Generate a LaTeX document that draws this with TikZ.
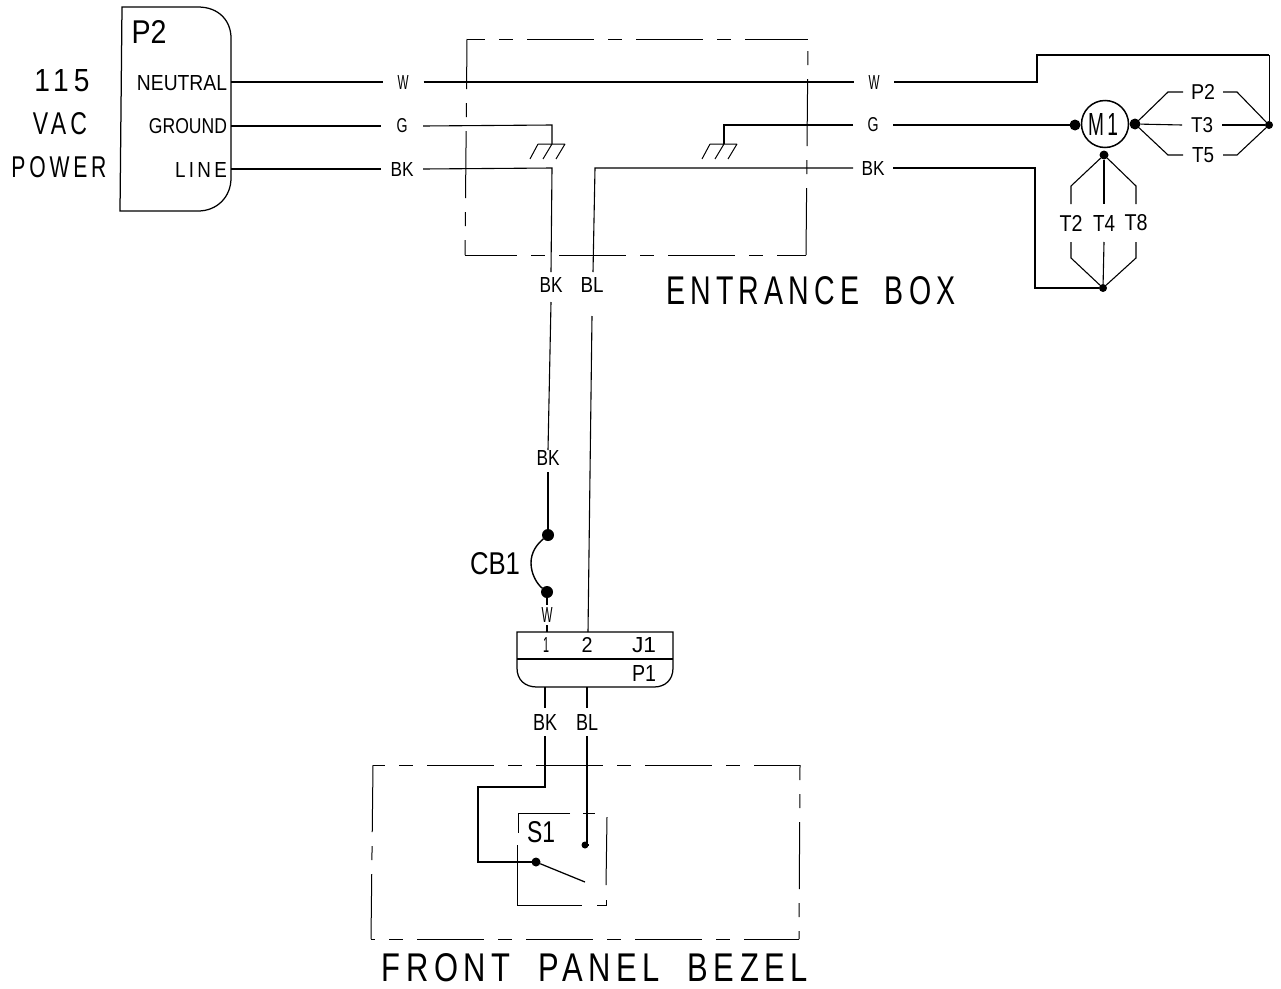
\documentclass[tikz,border=0pt]{standalone}
\usepackage{graphicx}
\usepackage{fontspec}
\setmainfont{Liberation Sans}
\newcommand{\fitlab}[3]{\resizebox{#1pt}{#2pt}{#3}}
\newcommand{\wide}[1]{{\addfontfeature{LetterSpace=18}#1}}
\tikzset{
  lbl/.style={inner sep=0pt,outer sep=0pt,minimum height=14pt},
  gapw/.style={minimum width=#1pt},
  wire/.style={line width=1.1pt,line join=miter},
  heavy/.style={line width=1.25pt},
  boxdash/.style={line width=1pt,dash pattern=on 67pt off 14pt on 14pt off 14pt,dash phase=#1pt},
  solidedge/.style={line width=1pt},
  dot/.style={circle,fill=black,inner sep=0pt,outer sep=0pt,minimum size=#1pt},
  gnd/.pic={\draw[line width=1pt] (-14,0) -- (13,0) (13,0) -- (4,15) (0,0) -- (-9,15) (-14,0) -- (-22,15);}
}
\begin{document}
\begin{tikzpicture}[x=1pt,y=-1pt]
\useasboundingbox (0,0) rectangle (1281,988);

% left-hand power labels
\node[lbl] (t115) at (62,81) {\fitlab{55}{22}{\wide{115}}};
\node[lbl] (tvac) at (60,124) {\fitlab{54}{22}{\wide{VAC}}};
\node[lbl] (tpow) at (59,167) {\fitlab{95}{21}{\wide{POWER}}};

% P2 connector
\draw[heavy] (122,7) -- (198,7) .. controls (219,7) and (231,21) .. (231,38)
  -- (231,178) .. controls (231,197) and (217,211) .. (198,211) -- (120,211) -- cycle;
\node[lbl] (tp2) at (149,32) {\fitlab{35}{23}{P2}};
\node[lbl] (tneu) at (182,83) {\fitlab{90}{15}{NEUTRAL}};
\node[lbl] (tgnd) at (188,126) {\fitlab{78}{15}{GROUND}};
\node[lbl] (tlin) at (201,170) {\fitlab{52}{15}{\wide{LINE}}};
\coordinate (pn) at (231,82);
\coordinate (pg) at (231,126);
\coordinate (pl) at (231,169);

% wire labels on the three feeds
\node[lbl,gapw=41] (w1) at (403,82) {\fitlab{11}{14}{W}};
\node[lbl,gapw=42] (g1) at (402,126) {\fitlab{11}{14}{G}};
\node[lbl,gapw=42] (b1) at (402,169) {\fitlab{23}{14}{BK}};
\node[lbl,gapw=40] (w2) at (874,82) {\fitlab{11}{14}{W}};
\node[lbl,gapw=40] (g2) at (873,125) {\fitlab{11}{14}{G}};
\node[lbl,gapw=40] (b2) at (873,168) {\fitlab{23}{14}{BK}};

\draw[heavy] (pn) -- (w1.west);
\draw[heavy] (pg) -- (g1.west);
\draw[heavy] (pl) -- (b1.west);
\draw[heavy] (w1.east) -- (w2.west);

% entrance box
\draw[boxdash=49] (467,39) -- (808,39);
\draw[boxdash=0] (806,255) -- (808,39);
\draw[boxdash=15] (465,255) -- (806,255);
\draw[boxdash=52] (465,255) -- (467,39);
\node[lbl] (tent) at (811,291) {\fitlab{289}{28}{\wide{ENTRANCE\hspace{9pt}BOX}}};

% grounds
\coordinate (gl) at (552,125);
\coordinate (gr) at (724,125);
\pic at (552,144) {gnd};
\pic at (724,144) {gnd};
\draw[wire] (g1.east) -- (gl) -- (552,144);
\draw[wire] (g2.west) -- (gr) -- (724,144);

% motor
\node[circle,draw,line width=1.5pt,minimum size=47pt,inner sep=0pt] (m1) at (1105,124) {};
\node[lbl] (tm1) at (1103,124) {\fitlab{30}{22}{\wide{M1}}};
\node[dot=11] (ml) at (1075,125) {};
\node[dot=11] (mr) at (1135,124) {};
\node[dot=9] (mb) at (1104,155) {};
\node[dot=8] (nr) at (1269,125) {};
\node[dot=8] (nb) at (1103,288) {};
\draw[heavy] (g2.east) -- (ml);

% right fan
\node[lbl,gapw=40] (tP) at (1203,92) {\fitlab{24}{15}{P2}};
\node[lbl,gapw=40] (tT3) at (1202,125) {\fitlab{22}{15}{T3}};
\node[lbl,gapw=40] (tT5) at (1203,155) {\fitlab{22}{15}{T5}};
\draw[wire] (mr) -- (1168,92) -- (tP.west);
\draw[wire] (mr) -- (tT3.west);
\draw[wire] (mr) -- (1168,155) -- (tT5.west);
\draw[wire] (tP.east) -- (1237,92) -- (nr);
\draw[wire] (tT3.east) -- (nr);
\draw[wire] (tT5.east) -- (1237,155) -- (nr);

% lower fan
\node[lbl,minimum height=38pt,minimum width=23pt] (tT2) at (1071,223) {\fitlab{23}{16}{T2}};
\node[lbl,minimum height=38pt,minimum width=22pt] (tT4) at (1104,223) {\fitlab{22}{16}{T4}};
\node[lbl,minimum height=38pt,minimum width=23pt] (tT8) at (1136,223) {\fitlab{23}{16}{T8}};
\draw[wire] (mb) -- (1071,186) -- (tT2.north);
\draw[wire] (mb) -- (tT4.north);
\draw[wire] (mb) -- (1136,186) -- (tT8.north);
\draw[wire] (tT2.south) -- (1071,258) -- (nb);
\draw[wire] (tT4.south) -- (nb);
\draw[wire] (tT8.south) -- (1136,258) -- (nb);

% neutral return and line return
\coordinate (na) at (1037,82);
\coordinate (nc) at (1037,55);
\coordinate (nd) at (1269,55);
\draw[heavy] (w2.east) -- (na) -- (nc) -- (nd);
\draw[line width=0.7pt] (nd) -- (nr);
\coordinate (la) at (1035,168);
\coordinate (lb) at (1035,288);
\draw[wire] (b2.east) -- (la) -- (lb) -- (nb);

% entrance box feeds down
\coordinate (bk) at (552,168);
\coordinate (bl) at (595,168);
\node[lbl,minimum height=26pt,minimum width=23pt] (bkA) at (551,285) {\fitlab{23}{15}{BK}};
\node[lbl] (blB) at (592,285) {\fitlab{23}{15}{BL}};
\coordinate (blT) at (593,272);
\coordinate (blD) at (592,316);
\coordinate (bkAo) at (551,302);
\node[lbl,minimum height=16pt,minimum width=23pt] (bkB) at (548,458) {\fitlab{23}{15}{BK}};
\coordinate (bkBo) at (548,472);
\node[dot=12] (cbt) at (548,535) {};
\node[dot=12] (cbb) at (547,592) {};
\node[lbl] (tcb) at (495,564) {\fitlab{50}{22}{CB1}};
\node[lbl,minimum height=20pt] (wcb) at (547,615) {\fitlab{11}{15}{W}};

\draw[wire] (b1.east) -- (bk) -- (bkA.north);
\draw[wire] (bkAo) -- (bkB.north);
\draw[wire] (bkBo) -- (cbt);
\draw[line width=1.4pt] (cbt) .. controls (536,545) and (531,553) .. (531,563)
  .. controls (531,574) and (537,584) .. (cbb);
\draw[wire] (cbb) -- (wcb.north);

% J1 / P1 connector
\draw[heavy] (517,632) -- (673,632) -- (673,668) .. controls (673,680) and (665,687) .. (654,687)
  -- (537,687) .. controls (525,687) and (517,680) .. (517,668) -- cycle;
\draw[heavy] (517,659) -- (673,659);
\node[lbl] (t1) at (546,645) {\fitlab{6}{15}{1}};
\node[lbl] (t2) at (587,645) {\fitlab{11}{15}{2}};
\node[lbl] (tj1) at (644,645) {\fitlab{24}{15}{J1}};
\node[lbl] (tp1) at (644,673) {\fitlab{24}{16}{P1}};
\coordinate (j1a) at (547,632);
\coordinate (j1b) at (588,632);
\draw[wire] (wcb.south) -- (j1a);
\draw[wire] (b2.west) -- (bl) -- (blT);
\draw[wire] (blD) -- (j1b);

% below connector
\coordinate (p1a) at (545,687);
\coordinate (p1b) at (587,687);
\node[lbl,minimum height=28pt,minimum width=24pt] (bkC) at (545,722) {\fitlab{24}{16}{BK}};
\node[lbl,minimum height=28pt,minimum width=22pt] (blC) at (587,722) {\fitlab{22}{16}{BL}};
\draw[wire] (p1a) -- (bkC.north);
\draw[wire] (p1b) -- (blC.north);

% front panel bezel
\draw[boxdash=55] (373,765) -- (800,765);
\draw[boxdash=63] (371,939) -- (799,939);
\draw[boxdash=0] (373,765) -- (371,939);
\draw[boxdash=52] (800,765) -- (799,939);
\node[lbl] (tfp) at (595,968) {\fitlab{426}{28}{\wide{FRONT\hspace{9pt}PANEL\hspace{9pt}BEZEL}}};

% S1 switch
\draw[solidedge] (570,813) -- (518,813) -- (518,833);
\draw[solidedge] (517,845) -- (517,905) -- (582,905);
\draw[solidedge] (583,813) -- (595,813);
\draw[solidedge] (607,817) -- (606,885);
\draw[solidedge] (597,905) -- (606,905) -- (606,900);
\node[lbl] (ts1) at (541,832) {\fitlab{28}{21}{S1}};
\node[dot=9] (swa) at (536,862) {};
\node[dot=7] (swb) at (585,845) {};
\coordinate (arm) at (585,882);
\coordinate (ka) at (545,787);
\coordinate (kb) at (478,787);
\coordinate (kc) at (478,862);
\draw[heavy] (bkC.south) -- (ka) -- (kb) -- (kc) -- (swa);
\draw[heavy] (swa) -- (arm);
\draw[wire] (blC.south) -- (587,845) -- (swb);
\end{tikzpicture}
\end{document}
